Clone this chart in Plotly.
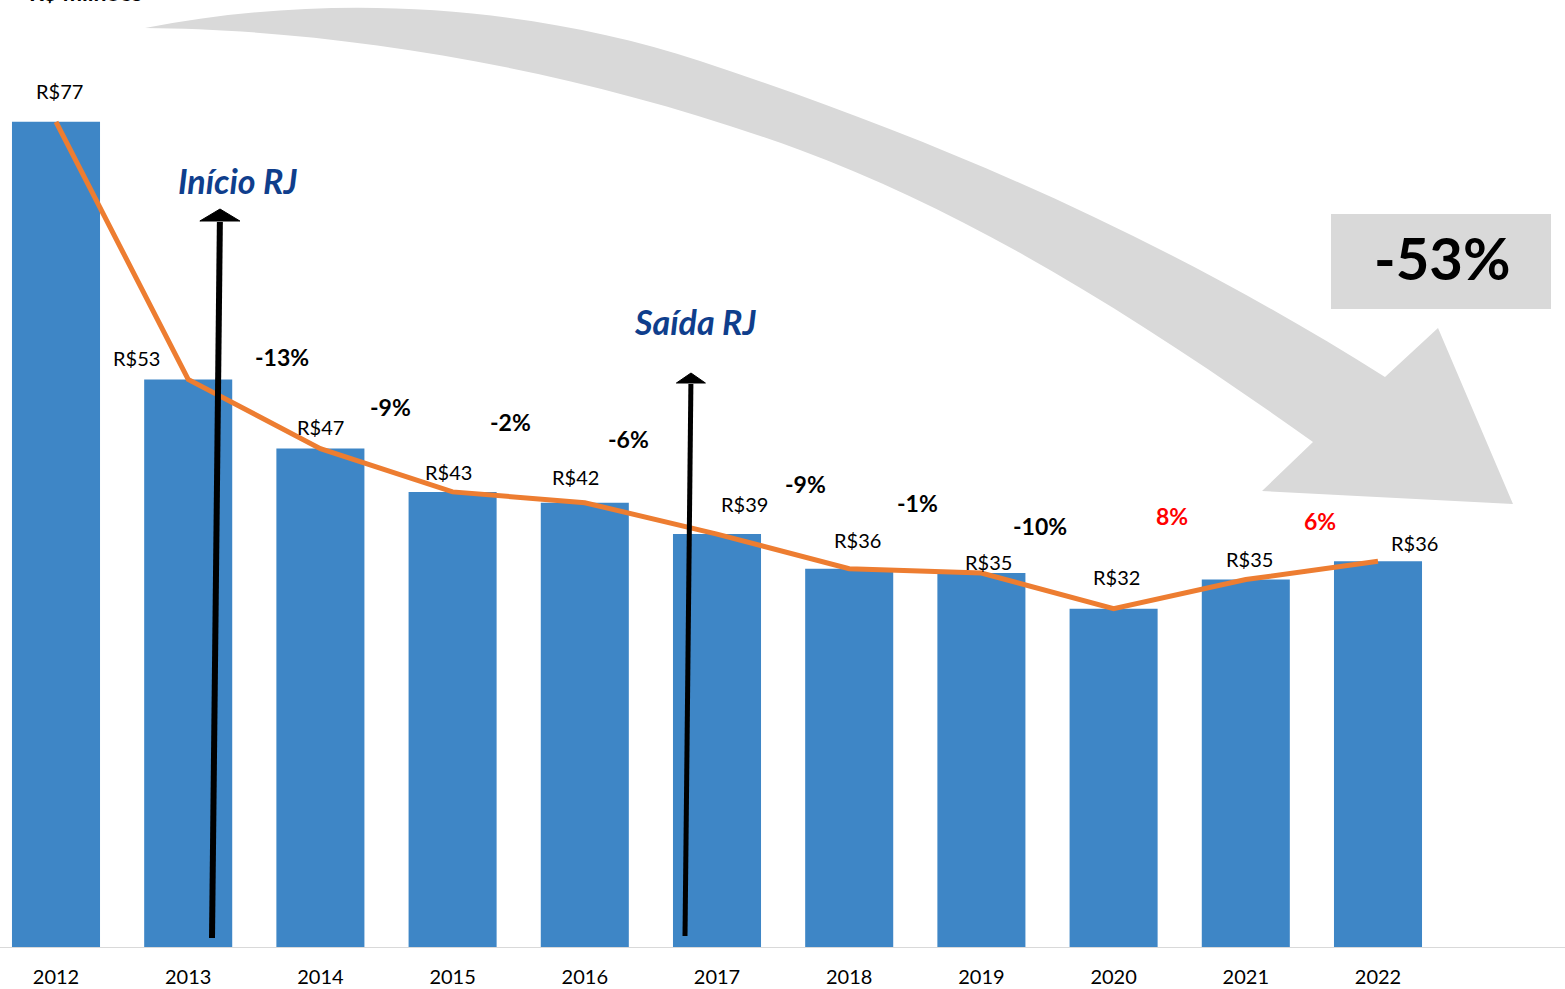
import plotly.graph_objects as go

# ---------------- data ----------------
years = ["2012", "2013", "2014", "2015", "2016", "2017", "2018", "2019", "2020", "2021", "2022"]
values = [77.0, 53.2, 46.8, 42.8, 41.8, 38.9, 35.7, 35.3, 32.0, 34.7, 36.4]
value_labels = ["R$77", "R$53", "R$47", "R$43", "R$42", "R$39", "R$36", "R$35", "R$32", "R$35", "R$36"]
pct_labels = ["-13%", "-9%", "-2%", "-6%", "-9%", "-1%", "-10%", "8%", "6%"]
total_change = "-53%"

# ---------------- layout helpers ----------------
W, H = 1565, 989
MB = 42
PH = H - MB          # plot-area height in px
X0, STEP = 56.0, 132.2   # px of first category, px per category
YSCALE = 10.82           # px per unit
YMIN = 8.0 / YSCALE
YMAX = YMIN + PH / YSCALE
XMIN = -X0 / STEP
XMAX = XMIN + W / STEP


def px(x):
    return x / W


def py(y):
    return 1 - y / PH


def P(x, y):
    return f"{px(x):.5f},{py(y):.5f}"


FONT = "Lato, 'Open Sans', Arial, sans-serif"
BAR = "#3E86C6"
ORANGE = "#ED7D31"
GREY = "#D9D9D9"
BLUE = "#0F3E8C"

idx = list(range(len(years)))

fig = go.Figure()
fig.add_trace(go.Bar(x=idx, y=values, width=0.666, marker=dict(color=BAR, line=dict(width=0)),
                     hoverinfo="skip", showlegend=False))
fig.add_trace(go.Scatter(x=idx, y=values, mode="lines", line=dict(color=ORANGE, width=5),
                         hoverinfo="skip", showlegend=False))

shapes = []

# big curved grey arrow (decoration), smooth cubic outline
arrow_path = (
    f"M {P(145, 28)} "
    f"C {P(330, -8)} {P(530, 5)} {P(700, 61)} "
    f"C {P(930, 137)} {P(1155, 232)} {P(1385, 377)} "
    f"L {P(1438, 328)} L {P(1513, 504)} L {P(1262, 491)} L {P(1313, 442)} "
    f"C {P(1133, 314)} {P(970, 213)} {P(800, 150)} "
    f"C {P(560, 62)} {P(320, 29)} {P(145, 28)} Z"
)
shapes.append(dict(type="path", xref="paper", yref="paper", path=arrow_path,
                   fillcolor=GREY, line=dict(width=0), layer="below"))

# -53% box
shapes.append(dict(type="rect", xref="paper", yref="paper", x0=px(1331), x1=px(1551),
                   y0=py(309), y1=py(214), fillcolor=GREY, line=dict(width=0), layer="above"))


def black_arrow(x_tail, y_tail, x_tip, y_tip, head_w, head_h, lw):
    base_y = y_tip + head_h
    base_x = x_tip - (x_tip - x_tail) * head_h / (y_tail - y_tip)
    shapes.append(dict(type="line", xref="paper", yref="paper", x0=px(x_tail), y0=py(y_tail),
                       x1=px(base_x), y1=py(base_y + 1), line=dict(color="black", width=lw),
                       layer="above"))
    tri = (f"M {P(x_tip, y_tip)} L {P(base_x - head_w / 2, base_y)} "
           f"L {P(base_x + head_w / 2, base_y)} Z")
    shapes.append(dict(type="path", xref="paper", yref="paper", path=tri, fillcolor="black",
                       line=dict(color="black", width=1), layer="above"))


black_arrow(212, 938, 220, 209, 40, 12, 6)
black_arrow(685, 936, 691, 373, 29, 10, 5)

annotations = []

# value labels above the points (pixel offsets)
label_offsets = [(3, 31), (-52, 21), (0, 22), (-4, 20), (-9, 26), (27, 30), (8, 29), (7, 11),
                 (3, 32), (4, 21), (36, 18)]
for i, (lab, v) in enumerate(zip(value_labels, values)):
    dx, dy = label_offsets[i]
    annotations.append(dict(x=i, y=v, xref="x", yref="y", text=lab, showarrow=False,
                            xshift=dx, yshift=dy, font=dict(family=FONT, size=20, color="black"),
                            xanchor="center", yanchor="middle"))

# year-over-year changes
pct_pos = [(282, 357), (390, 407), (510, 422), (628, 439), (805, 484), (917, 503), (1040, 526),
           (1172, 516), (1320, 521)]
for lab, (x, y) in zip(pct_labels, pct_pos):
    col = "#FF0000" if not lab.startswith("-") else "black"
    annotations.append(dict(x=px(x), y=py(y), xref="paper", yref="paper", text=f"<b>{lab}</b>",
                            showarrow=False, font=dict(family=FONT, size=23, color=col),
                            xanchor="center", yanchor="middle"))

# -53%
annotations.append(dict(x=px(1442), y=py(257), xref="paper", yref="paper", text=f"<b>{total_change}</b>",
                        showarrow=False, font=dict(family=FONT, size=58, color="black"),
                        xanchor="center", yanchor="middle"))

# RJ labels
annotations.append(dict(x=px(237), y=py(181), xref="paper", yref="paper", text="<b><i>Início RJ</i></b>",
                        showarrow=False, font=dict(family=FONT, size=34, color=BLUE),
                        xanchor="center", yanchor="middle"))
annotations.append(dict(x=px(695), y=py(321), xref="paper", yref="paper", text="<b><i>Saída RJ</i></b>",
                        showarrow=False, font=dict(family=FONT, size=34, color=BLUE),
                        xanchor="center", yanchor="middle"))

# unit title, cut off at the top edge as in the source image
annotations.append(dict(x=px(27), y=1, xref="paper", yref="paper", text="<b>R$ milhões</b>",
                        showarrow=False, font=dict(family=FONT, size=23, color="black"),
                        xanchor="left", yanchor="bottom", yshift=-8))

fig.update_layout(
    width=W, height=H,
    margin=dict(l=0, r=0, t=0, b=MB, autoexpand=False),
    paper_bgcolor="white", plot_bgcolor="rgba(0,0,0,0)",
    shapes=shapes, annotations=annotations,
    xaxis=dict(range=[XMIN, XMAX], tickvals=idx, ticktext=years, showgrid=False, zeroline=False,
               showline=True, linecolor=GREY, linewidth=1, ticks="outside", ticklen=12,
               tickcolor="rgba(0,0,0,0)", tickfont=dict(family=FONT, size=20, color="black"),
               automargin=False, fixedrange=True),
    yaxis=dict(range=[YMIN, YMAX], visible=False, showgrid=False, zeroline=False,
               automargin=False, fixedrange=True),
)

fig.write_html("out.html")
